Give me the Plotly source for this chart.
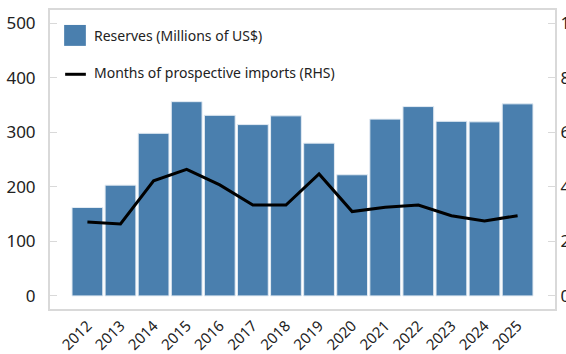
import plotly.graph_objects as go

years = ["2012", "2013", "2014", "2015", "2016", "2017", "2018",
         "2019", "2020", "2021", "2022", "2023", "2024", "2025"]
reserves = [162, 203, 298, 356, 331, 314, 330, 280, 222, 324, 347, 320, 319, 352]
import_months = [2.71, 2.64, 4.22, 4.64, 4.07, 3.33, 3.33, 4.47, 3.09, 3.25, 3.33, 2.94, 2.75, 2.94]

left_ticks = [0, 100, 200, 300, 400, 500]
right_ticks = [0, 2, 4, 6, 8, 10]

BAR_BLUE = "#4a7fae"
AXIS_GREY = "#d9d9d9"
FONT = "Noto Sans"

fig = go.Figure()
fig.add_trace(go.Bar(
    x=years, y=reserves, name="Reserves (Millions of US$)",
    marker=dict(color=BAR_BLUE, line=dict(color="#e3ebf3", width=1)),
    yaxis="y",
))
fig.add_trace(go.Scatter(
    x=years, y=import_months, name="Months of prospective imports (RHS)",
    mode="lines", line=dict(color="#000000", width=3),
    yaxis="y2",
))

fig.update_layout(
    width=566, height=354,
    margin=dict(l=50, r=11, t=10, b=45),
    paper_bgcolor="white", plot_bgcolor="white",
    showlegend=False,
    bargap=0.07,
    font=dict(family=FONT, color="#222222"),
    xaxis=dict(
        type="category", range=[-1.13, 14.13], automargin=False,
        showline=True, linecolor=AXIS_GREY, linewidth=2, mirror=True,
        ticks="", tickangle=-45, tickfont=dict(size=15),
        showgrid=False, zeroline=False,
    ),
    yaxis=dict(
        range=[-24, 524], tickvals=left_ticks, automargin=False,
        showline=True, linecolor=AXIS_GREY, linewidth=2,
        ticks="inside", ticklen=7, tickcolor=AXIS_GREY, tickwidth=1,
        ticklabelstandoff=9,
        tickfont=dict(size=17), showgrid=False, zeroline=False,
    ),
    yaxis2=dict(
        range=[-0.48, 10.48], tickvals=right_ticks, overlaying="y", side="right",
        automargin=False,
        showline=True, linecolor=AXIS_GREY, linewidth=2,
        ticks="inside", ticklen=7, tickcolor=AXIS_GREY, tickwidth=1,
        tickfont=dict(size=17), showgrid=False, zeroline=False,
    ),
)

# Legend drawn by hand inside the top-left of the plot area
fig.add_shape(type="rect", xref="paper", yref="paper",
              x0=0.028, x1=0.071, y0=0.88, y1=0.95,
              fillcolor=BAR_BLUE, line=dict(width=0))
fig.add_annotation(xref="paper", yref="paper", x=0.084, y=0.915,
                   text="Reserves (Millions of US$)", showarrow=False,
                   xanchor="left", yanchor="middle", font=dict(size=14, family=FONT))
fig.add_shape(type="line", xref="paper", yref="paper",
              x0=0.030, x1=0.071, y0=0.785, y1=0.785,
              line=dict(color="#000000", width=3))
fig.add_annotation(xref="paper", yref="paper", x=0.084, y=0.79,
                   text="Months of prospective imports (RHS)", showarrow=False,
                   xanchor="left", yanchor="middle", font=dict(size=14, family=FONT))

fig.write_html("out.html")
